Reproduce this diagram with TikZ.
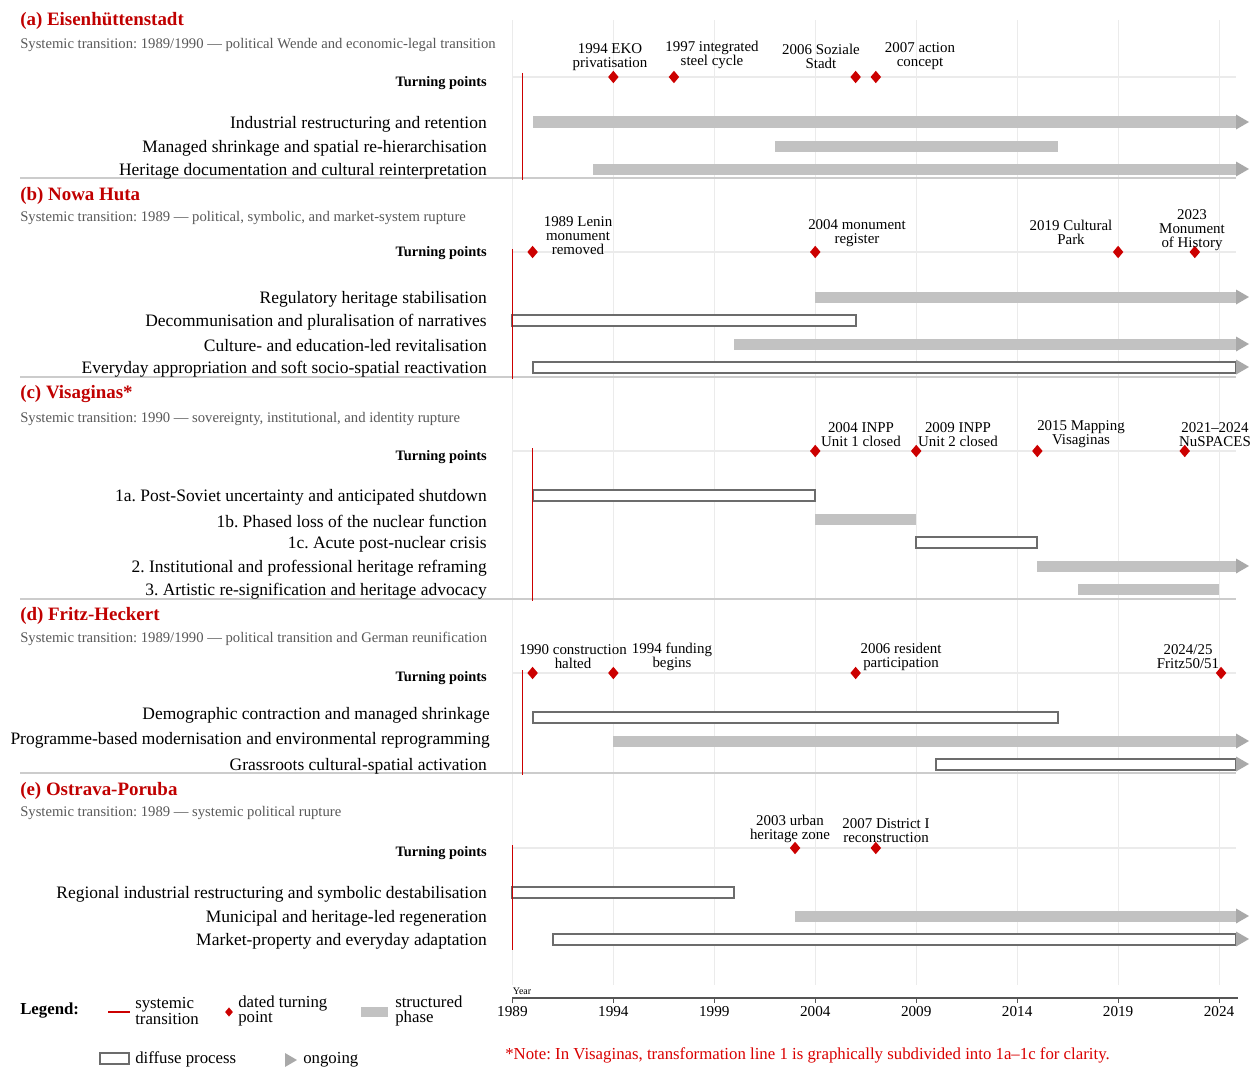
\documentclass[tikz,border=0pt]{standalone}
\usepackage{fontspec}
\setmainfont{Liberation Serif}
\usetikzlibrary{shapes.geometric}
\definecolor{tred}{HTML}{C00000}
\definecolor{mred}{HTML}{CC0000}
\definecolor{sgray}{HTML}{C2C2C2}
\definecolor{hgray}{HTML}{A9A9A9}
\definecolor{dgray}{HTML}{6C6C6C}
\definecolor{gridc}{HTML}{EBEBEB}
\definecolor{sepc}{HTML}{CCCCCC}
\definecolor{subgray}{HTML}{585858}
\definecolor{axc}{HTML}{555555}
\newcommand{\fsz}[2]{\fontsize{#1}{#2}\selectfont}
\frenchspacing
\tikzset{
 txt/.style={inner sep=0, yshift=-1.5pt},
 ttl/.style={txt, anchor=west, text=tred, font=\fsz{14.2}{16}\bfseries},
 subt/.style={txt, anchor=west, text=subgray, font=\fsz{11}{13}},
 tpl/.style={txt, anchor=east, font=\fsz{10.8}{13}\bfseries},
 rowl/.style={txt, anchor=east, font=\fsz{13.1}{15}},
 ms/.style={txt, align=center, font=\fsz{11.2}{10.5}},
 tpd/.style={diamond, fill=mred, inner sep=0, minimum width=8pt, minimum height=9.5pt},
 sbar/.style={fill=sgray},
 dbar/.style={draw=dgray, fill=white, line width=1.5pt},
 ahead/.style={fill=hgray},
 sysl/.style={draw=mred, line width=1.3pt},
 gridl/.style={draw=gridc, line width=0.6pt},
 tpline/.style={draw=gridc, line width=0.9pt},
 sepl/.style={draw=sepc, line width=1.2pt},
 legt/.style={anchor=west, inner sep=0, align=left, font=\fsz{12.6}{11.3}},
 tick/.style={inner sep=0, font=\fsz{11.4}{13}},
}
\def\YE{2024.83}
\newcommand{\Sbar}[3]{\path[sbar] ({X(#2)},{#1-5.5}) rectangle ({X(#3)},{#1+5.5});}
\newcommand{\Dbar}[3]{\path[dbar] ({X(#2)},{#1-5.5}) rectangle ({X(#3)},{#1+5.5});}
\newcommand{\Ahead}[1]{\path[ahead] (1236,{#1-7.5}) -- (1249,#1) -- (1236,{#1+7.5}) -- cycle;}
\begin{document}
\begin{tikzpicture}[x=0.75pt,y=-0.75pt, declare function={X(\t)=512.4+(\t-1989)*20.19;}]
\useasboundingbox (0,0) rectangle (1257,1081);
% grid
\foreach \k in {0,...,7} {\draw[gridl] ({X(1989+5*\k)},20) -- ({X(1989+5*\k)},985);}
% turning point lines
\foreach \yy in {77,252,451,673,848} {\draw[tpline] ({X(1989)},\yy) -- (1236,\yy);}
% separators
\foreach \yy in {178,377,599,773} {\draw[sepl] (20,\yy) -- (1236,\yy);}

%% (a)
\node[ttl] (a-t) at (20,19) {(a) Eisenhüttenstadt};
\node[subt] (a-s) at (20,43) {Systemic transition: 1989/1990 — political Wende and economic-legal transition};
\node[tpl] (a-tp) at (487,81) {Turning points};
\node[rowl] (a-r1) at (487,122) {Industrial restructuring and retention};
\node[rowl] (a-r2) at (487,146) {Managed shrinkage and spatial re-hierarchisation};
\node[rowl] (a-r3) at (487,169) {Heritage documentation and cultural reinterpretation};
\Sbar{122}{1990}{\YE}\Ahead{122}
\Sbar{146}{2002}{2016}
\Sbar{169}{1993}{\YE}\Ahead{169}
\draw[sysl] ({X(1989.5)},73) -- ({X(1989.5)},180);
\node[tpd] (a-d1) at ({X(1994)},77) {};
\node[tpd] (a-d2) at ({X(1997)},77) {};
\node[tpd] (a-d3) at ({X(2006)},77) {};
\node[tpd] (a-d4) at ({X(2007)},77) {};
\node[ms] (a-m1) at (610,55) {1994 EKO\\privatisation};
\node[ms] (a-m2) at (712,53) {1997 integrated\\steel cycle};
\node[ms] (a-m3) at (821,54) {2006 Soziale\\Stadt};
\node[ms] (a-m4) at (920,54) {2007 action\\concept};

%% (b)
\node[ttl] (b-t) at (20,194) {(b) Nowa Huta};
\node[subt] (b-s) at (20,216) {Systemic transition: 1989 — political, symbolic, and market-system rupture};
\node[tpl] (b-tp) at (487,251) {Turning points};
\node[rowl] (b-r1) at (487,297) {Regulatory heritage stabilisation};
\node[rowl] (b-r2) at (487,320) {Decommunisation and pluralisation of narratives};
\node[rowl] (b-r3) at (487,344) {Culture- and education-led revitalisation};
\node[rowl] (b-r4) at (487,367) {Everyday appropriation and soft socio-spatial reactivation};
\Sbar{297}{2004}{\YE}\Ahead{297}
\Dbar{320}{1989}{2006}
\Sbar{344}{2000}{\YE}\Ahead{344}
\Dbar{367}{1990}{\YE}\Ahead{367}
\draw[sysl] ({X(1989)},249) -- ({X(1989)},379);
\node[tpd] (b-d1) at ({X(1990)},252) {};
\node[tpd] (b-d2) at ({X(2004)},252) {};
\node[tpd] (b-d3) at ({X(2019)},252) {};
\node[tpd] (b-d4) at ({X(2022.8)},252) {};
\node[ms] (b-m1) at (578,234) {1989 Lenin\\monument\\removed};
\node[ms] (b-m2) at (857,231) {2004 monument\\register};
\node[ms] (b-m3) at (1071,230) {2019 Cultural\\Park};
\node[ms] (b-m4) at (1192,228) {2023\\Monument\\of History};

%% (c)
\node[ttl] (c-t) at (20,392) {(c) Visaginas*};
\node[subt] (c-s) at (20,417) {Systemic transition: 1990 — sovereignty, institutional, and identity rupture};
\node[tpl] (c-tp) at (487,455) {Turning points};
\node[rowl] (c-r1) at (487,495) {1a. Post-Soviet uncertainty and anticipated shutdown};
\node[rowl] (c-r2) at (487,519) {1b. Phased loss of the nuclear function};
\node[rowl] (c-r3) at (487,542) {1c. Acute post-nuclear crisis};
\node[rowl] (c-r4) at (487,566) {2. Institutional and professional heritage reframing};
\node[rowl] (c-r5) at (487,589) {3. Artistic re-signification and heritage advocacy};
\Dbar{495}{1990}{2004}
\Sbar{519}{2004}{2009}
\Dbar{542}{2009}{2015}
\Sbar{566}{2015}{\YE}\Ahead{566}
\Sbar{589}{2017}{2024}
\draw[sysl] ({X(1990)},448) -- ({X(1990)},601);
\node[tpd] (c-d1) at ({X(2004)},451) {};
\node[tpd] (c-d2) at ({X(2009)},451) {};
\node[tpd] (c-d3) at ({X(2015)},451) {};
\node[tpd] (c-d4) at ({X(2022.3)},451) {};
\node[ms] (c-m1) at (861,433) {2004 INPP\\Unit 1 closed};
\node[ms] (c-m2) at (958,433) {2009 INPP\\Unit 2 closed};
\node[ms] (c-m3) at (1081,432) {2015 Mapping\\Visaginas};
\node[ms] (c-m4) at (1215,433) {2021–2024\\NuSPACES};

%% (d)
\node[ttl] (d-t) at (20,614) {(d) Fritz-Heckert};
\node[subt] (d-s) at (20,637) {Systemic transition: 1989/1990 — political transition and German reunification};
\node[tpl] (d-tp) at (487,676) {Turning points};
\node[rowl] (d-r1) at (490,713) {Demographic contraction and managed shrinkage};
\node[rowl] (d-r2) at (490,738) {Programme-based modernisation and environmental reprogramming};
\node[rowl] (d-r3) at (487,764) {Grassroots cultural-spatial activation};
\Dbar{717}{1990}{2016}
\Sbar{741}{1994}{\YE}\Ahead{741}
\Dbar{764}{2010}{\YE}\Ahead{764}
\draw[sysl] ({X(1989.5)},670) -- ({X(1989.5)},775);
\node[tpd] (d-d1) at ({X(1990)},673) {};
\node[tpd] (d-d2) at ({X(1994)},673) {};
\node[tpd] (d-d3) at ({X(2006)},673) {};
\node[tpd] (d-d4) at ({X(2024.1)},673) {};
\node[ms] (d-m1) at (573,655) {1990 construction\\halted};
\node[ms] (d-m2) at (672,655) {1994 funding\\begins};
\node[ms] (d-m3) at (901,655) {2006 resident\\participation};
\node[ms] (d-m4) at (1188,655) {2024/25\\Fritz50/51};

%% (e)
\node[ttl] (e-t) at (20,789) {(e) Ostrava-Poruba};
\node[subt] (e-s) at (20,811) {Systemic transition: 1989 — systemic political rupture};
\node[tpl] (e-tp) at (487,851) {Turning points};
\node[rowl] (e-r1) at (487,892) {Regional industrial restructuring and symbolic destabilisation};
\node[rowl] (e-r2) at (487,916) {Municipal and heritage-led regeneration};
\node[rowl] (e-r3) at (487,939) {Market-property and everyday adaptation};
\Dbar{892}{1989}{2000}
\Sbar{916}{2003}{\YE}\Ahead{916}
\Dbar{939}{1991}{\YE}\Ahead{939}
\draw[sysl] ({X(1989)},845) -- ({X(1989)},950);
\node[tpd] (e-d1) at ({X(2003)},848) {};
\node[tpd] (e-d2) at ({X(2007)},848) {};
\node[ms] (e-m1) at (790,827) {2003 urban\\heritage zone};
\node[ms] (e-m2) at (886,829) {2007 District I\\reconstruction};

%% axis
\draw[draw=axc, line width=1.4pt] ({X(1989)},998) -- (1238,998);
\foreach \k in {0,...,7} {
  \draw[draw=axc, line width=0.8pt] ({X(1989+5*\k)},998) -- ({X(1989+5*\k)},1003);
  \pgfmathtruncatemacro{\yl}{1989+5*\k}
  \node[tick] (tk\k) at ({X(1989+5*\k)},1012) {\yl};
}
\node[inner sep=0, font=\fsz{7.5}{8}] (yr) at (522,991) {Year};

%% legend
\node[anchor=west, inner sep=0, font=\fsz{12.6}{13}\bfseries] (lg) at (20,1011) {Legend:};
\draw[sysl] (108,1012) -- (130,1012);
\node[legt] (lg1) at (135,1011) {systemic\\transition};
\node[tpd, minimum width=6pt, minimum height=7pt] (lgd) at (229,1012) {};
\node[legt] (lg2) at (238,1011) {dated turning\\point};
\path[sbar] (361,1007) rectangle (388,1017);
\node[legt] (lg3) at (395,1011) {structured\\phase};
\path[dbar] (100,1053) rectangle (129,1064);
\node[legt] (lg4) at (135,1059) {diffuse process};
\path[ahead] (285,1053) -- (297,1060) -- (285,1067) -- cycle;
\node[legt] (lg5) at (303,1060) {ongoing};
\node[anchor=west, inner sep=0, text=red!85!black, font=\fsz{12.6}{13}] (note) at (505,1055) {*Note: In Visaginas, transformation line 1 is graphically subdivided into 1a–1c for clarity.};
\end{tikzpicture}
\end{document}
